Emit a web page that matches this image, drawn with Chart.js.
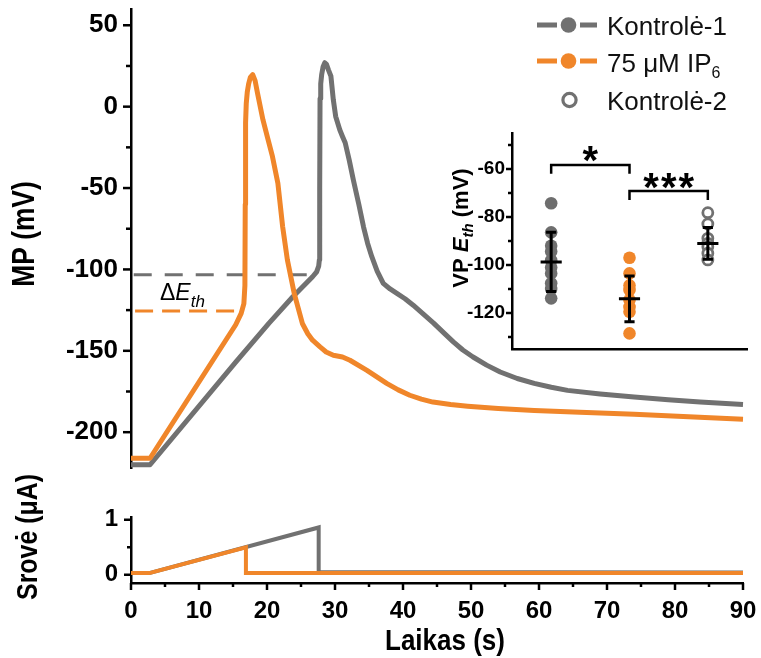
<!DOCTYPE html>
<html><head><meta charset="utf-8">
<script src="https://cdn.jsdelivr.net/npm/chart.js@4.4.1/dist/chart.umd.min.js"></script>
<style>
html,body{margin:0;padding:0;background:#fff;}
#wrap{position:relative;width:761px;height:658px;overflow:hidden;}
canvas{position:absolute;left:0;top:0;}
</style></head><body>
<div id="wrap">
<canvas id="main" width="761" height="658"></canvas>
<canvas id="cur" width="761" height="658"></canvas>
<canvas id="inset" width="761" height="658"></canvas>
</div>
<script>
// ---------- DATA ----------
const ctrl1Time = [0,2.8,15.4,20.3,23.8,26.7,27.3,27.6,27.7,27.75,27.8,27.9,28.05,28.25,28.5,28.75,29.05,29.4,29.75,30.1,30.7,31.1,31.5,32.1,32.7,33.5,34.2,34.8,35.4,36.2,37.1,38.1,39.1,40.3,41.5,43.0,44.5,46.0,47.4,48.8,50.3,52.3,54.3,56.8,59.3,61.8,64.2,69,74,79,83.7,90];
const ctrl1MP   = [-220,-220,-157,-133,-116.8,-104.5,-101.5,-98,-94,-50,5,14,20,24.5,27,26,22.5,18.7,4.3,-6,-14.2,-18.3,-22.2,-33,-45,-60,-74,-84,-92,-101,-108.6,-112,-114.7,-118,-122,-127.5,-133,-139,-144.5,-149.5,-153.8,-158.8,-163,-167,-170,-172.4,-174.3,-176.5,-178.4,-180,-181.5,-183];
const ip6Time = [0,2.8,15.4,16.2,16.6,16.75,16.8,16.85,16.95,17.1,17.3,17.55,17.9,18.25,18.6,19.4,20.1,20.8,21.6,22.3,23.0,24.0,25.2,26.0,26.7,27.8,28.7,29.75,31.1,32.2,34.7,37.6,39.3,41,42.7,44.4,47,49.5,54,59.3,66,74,82,90];
const ip6MP   = [-216,-216,-134,-127,-121,-110,-60,-10,2,9,14,18,19.7,16,8.4,-8,-19.3,-30.6,-47,-73.7,-94.2,-114.7,-133.2,-139.5,-143.5,-147.6,-150.7,-152.7,-153.8,-155.8,-162,-170,-174,-177.3,-179.7,-181.5,-183,-184,-185.4,-186.6,-187.8,-189,-190.5,-192];

const curCtrlTime = [0,2.7,27.6,27.6,90];
const curCtrl     = [0.03,0.03,0.86,0.05,0.04];
const curIp6Time  = [0,2.7,16.9,16.9,90];
const curIp6      = [0.03,0.03,0.5,0.03,0.03];

const thrLevel = [-103.3,-125.6];   // Kontrolė-1, IP6 threshold
const thrStart = [0.4,0.6];
const thrEnd   = [26.2,16.0];

const mpTicks   = [-200,-150,-100,-50,0,50];
const mpMinor   = [-175,-125,-75,-25,25];
const timeTicks = [0,10,20,30,40,50,60,70,80,90];
const timeMinor = [5,15,25,35,45,55,65,75,85];
const curTicks  = [0,1];
const curMinor  = [0.5];

const groups   = ['Kontrolė-1','75 μM IP6','Kontrolė-2'];
const groupX   = [1,2,3];
const ethCtrl1 = [-74.3,-86.4,-92,-94.4,-98,-101,-103.5,-107.6,-110,-113.9];
const ethIp6   = [-97,-103.5,-108.5,-110.4,-114.6,-117.5,-119.5,-128.5];
const ethCtrl2 = [-78.2,-82.9,-88.9,-91,-92.4,-95.1,-97.9];
const ethMean  = [-98.7,-114.1,-91.0];
const ethSD    = [12.3,9.5,6.6];
const ethTicks = [-120,-100,-80,-60];
const ethMinor = [-130,-110,-90,-70,-50];
const sigFrom = [1,2];
const sigTo   = [2,3];
const sigY    = [-58.3,-69.2];
const sigText = ['*','***'];

// ---------- STYLE ----------
const GRAY = '#717171', ORANGE = '#F0862A';
const FONT = '"Liberation Sans", Arial, Helvetica, sans-serif';
Chart.defaults.font.family = FONT;

function pts(xs, ys){ return xs.map((x,i)=>({x:x, y:ys[i]})); }
function fixAxis(size, horiz){
  return function(s){
    if(horiz) s.height = size; else s.width = size;
    s.paddingTop = 0; s.paddingBottom = 0; s.paddingLeft = 0; s.paddingRight = 0;
  };
}
function setTicks(vals){ return function(s){ s.ticks = vals.map(v=>({value:v})); }; }
function fstr(size,bold,italic){ return (italic?'italic ':'')+(bold?'bold ':'')+size+'px '+FONT; }
function drawRuns(ctx, runs, x, y, o){
  o = o || {};
  ctx.save();
  ctx.translate(x,y);
  if(o.rot) ctx.rotate(o.rot);
  ctx.scale(o.sx||1,1);
  ctx.fillStyle = o.color || '#000';
  ctx.textBaseline = 'alphabetic'; ctx.textAlign = 'left';
  let w = 0;
  runs.forEach(r=>{ ctx.font = fstr(r.size,r.bold,r.italic); r.w = ctx.measureText(r.t).width; w += r.w; });
  let cx = o.align==='center' ? -w/2 : 0;
  runs.forEach(r=>{ ctx.font = fstr(r.size,r.bold,r.italic); ctx.fillText(r.t,cx,r.dy||0); cx += r.w; });
  ctx.restore();
}
function tickPlugin(items){
  return { id:'tickMarks', afterDraw(chart){
    const ctx = chart.ctx, ca = chart.chartArea;
    items.forEach(it=>{
      const s = chart.scales[it.scale];
      ctx.save(); ctx.strokeStyle='#000'; ctx.lineWidth = it.width || 2.5; ctx.lineCap='butt';
      it.values.forEach(v=>{
        const p = s.getPixelForValue(v);
        ctx.beginPath();
        if(s.isHorizontal()){ ctx.moveTo(p, ca.bottom); ctx.lineTo(p, ca.bottom + it.len); }
        else { ctx.moveTo(ca.left, p); ctx.lineTo(ca.left - it.len, p); }
        ctx.stroke();
      });
      ctx.restore();
    });
  }};
}
const baseOpts = { responsive:false, animation:false, events:[], devicePixelRatio:1 };

// ---------- MAIN PANEL ----------
new Chart(document.getElementById('main'), {
  type:'line',
  data:{ datasets:[
    { label:groups[1], data:pts(ip6Time, ip6MP), borderColor:ORANGE, borderWidth:5, pointRadius:0,
      tension:0, borderJoinStyle:'round', order:0, clip:false },
    { label:groups[0], data:pts(ctrl1Time, ctrl1MP), borderColor:GRAY, borderWidth:5, pointRadius:0,
      tension:0, borderJoinStyle:'round', order:1, clip:false },
    { label:'Eth '+groups[0], data:[{x:thrStart[0],y:thrLevel[0]},{x:thrEnd[0],y:thrLevel[0]}],
      borderColor:GRAY, borderWidth:3, borderDash:[18,13], pointRadius:0, order:2 },
    { label:'Eth '+groups[1], data:[{x:thrStart[1],y:thrLevel[1]},{x:thrEnd[1],y:thrLevel[1]}],
      borderColor:ORANGE, borderWidth:3, borderDash:[18,9], pointRadius:0, order:3 }
  ]},
  options: Object.assign({}, baseOpts, {
    layout:{ padding:{ left:0, top:9, right:18, bottom:190 } },
    plugins:{ legend:{display:false}, tooltip:{enabled:false} },
    scales:{
      x:{ type:'linear', min:0, max:90, display:false },
      y:{ type:'linear', min:-222, max:60, afterBuildTicks:setTicks(mpTicks), afterFit:fixAxis(131,false),
          grid:{display:false, drawTicks:false}, border:{display:true, color:'#000', width:2.5},
          ticks:{ padding:13, color:'#000', font:{size:26, weight:'bold'} } }
    }
  }),
  plugins:[
    tickPlugin([{scale:'y', values:mpTicks, len:8},{scale:'y', values:mpMinor, len:5}]),
    { id:'mainText', afterDraw(chart){
      const ctx = chart.ctx;
      drawRuns(ctx, [{t:'MP (mV)', size:31, bold:true}], 34, 234, {rot:-Math.PI/2, align:'center', sx:0.85});
      drawRuns(ctx, [{t:'\u0394', size:23},{t:'E', size:23, italic:true},{t:'th', size:17, italic:true, dy:7}], 160, 300);
      const rows = [{y:25, base:35, col:GRAY, type:'line'},{y:61, base:72, col:ORANGE, type:'line'},{y:100, base:110, col:GRAY, type:'open'}];
      rows.forEach((r,i)=>{
        ctx.save();
        if(r.type==='line'){
          ctx.strokeStyle = r.col; ctx.lineWidth = 5; ctx.lineCap='butt';
          ctx.beginPath(); ctx.moveTo(537,r.y); ctx.lineTo(557,r.y); ctx.moveTo(580,r.y); ctx.lineTo(597,r.y); ctx.stroke();
          ctx.fillStyle = r.col; ctx.beginPath(); ctx.arc(568.5,r.y,7.8,0,Math.PI*2); ctx.fill();
        } else {
          ctx.strokeStyle = r.col; ctx.lineWidth = 3.2; ctx.fillStyle='#fff';
          ctx.beginPath(); ctx.arc(569.5,r.y,6.6,0,Math.PI*2); ctx.fill(); ctx.stroke();
        }
        ctx.restore();
        const name = groups[i];
        let runs;
        const m = name.match(/^(.*IP)(\d)$/);
        if(m) runs = [{t:m[1], size:26},{t:m[2], size:16, dy:6}];
        else runs = [{t:name, size:26}];
        drawRuns(ctx, runs, 607, r.base, {color:'#111'});
      });
    }}
  ]
});

// ---------- CURRENT PANEL ----------
new Chart(document.getElementById('cur'), {
  type:'line',
  data:{ datasets:[
    { label:groups[1], data:pts(curIp6Time, curIp6), borderColor:ORANGE, borderWidth:4, pointRadius:0, tension:0, order:0, clip:false },
    { label:groups[0], data:pts(curCtrlTime, curCtrl), borderColor:GRAY, borderWidth:4, pointRadius:0, tension:0, order:1, clip:false }
  ]},
  options: Object.assign({}, baseOpts, {
    layout:{ padding:{ left:0, top:517, right:18, bottom:0 } },
    plugins:{ legend:{display:false}, tooltip:{enabled:false} },
    scales:{
      x:{ type:'linear', min:0, max:90, afterBuildTicks:setTicks(timeTicks), afterFit:fixAxis(75,true),
          grid:{display:false, drawTicks:false}, border:{display:true, color:'#000', width:2.5},
          ticks:{ padding:14, color:'#000', maxRotation:0, autoSkip:false, font:{size:24, weight:'bold'} } },
      y:{ type:'linear', min:-0.15, max:1.05, afterBuildTicks:setTicks(curTicks), afterFit:fixAxis(131,false),
          grid:{display:false, drawTicks:false}, border:{display:true, color:'#000', width:2.5},
          ticks:{ padding:13, color:'#000', font:{size:24, weight:'bold'} } }
    }
  }),
  plugins:[
    tickPlugin([{scale:'x', values:timeTicks, len:7},{scale:'x', values:timeMinor, len:4},
                {scale:'y', values:curTicks, len:7},{scale:'y', values:curMinor, len:4}]),
    { id:'curText', afterDraw(chart){
      const ctx = chart.ctx;
      drawRuns(ctx, [{t:'Srov\u0117 (\u03bcA)', size:30, bold:true}], 37, 537, {rot:-Math.PI/2, align:'center', sx:0.83});
      drawRuns(ctx, [{t:'Laikas (s)', size:30, bold:true}], 445, 650, {align:'center', sx:0.867});
    }}
  ]
});

// ---------- INSET ----------
const CAP = 0.065, MEANW = 0.135, LEG = 3.7;
const ebData = [];
ethMean.forEach((m,i)=>{
  const x = groupX[i], s = ethSD[i];
  ebData.push({x:x,y:m-s},{x:x,y:m+s},{x:x,y:null},
              {x:x-CAP,y:m+s},{x:x+CAP,y:m+s},{x:x,y:null},
              {x:x-CAP,y:m-s},{x:x+CAP,y:m-s},{x:x,y:null},
              {x:x-MEANW,y:m},{x:x+MEANW,y:m},{x:x,y:null});
});
const brData = [];
sigFrom.forEach((a,i)=>{
  const b = sigTo[i], y = sigY[i];
  brData.push({x:a,y:y-LEG},{x:a,y:y},{x:b,y:y},{x:b,y:y-LEG},{x:b,y:null});
});
new Chart(document.getElementById('inset'), {
  type:'scatter',
  data:{ datasets:[
    { label:'SD', data:ebData, showLine:true, borderColor:'#000', borderWidth:3, pointRadius:0, spanGaps:false, order:0, clip:false },
    { label:'sig', data:brData, showLine:true, borderColor:'#000', borderWidth:2.5, pointRadius:0, spanGaps:false, order:0, clip:false },
    { label:groups[0], data:ethCtrl1.map(v=>({x:groupX[0],y:v})), pointRadius:6.3, backgroundColor:'#6e6e6e', borderWidth:0, order:1 },
    { label:groups[1], data:ethIp6.map(v=>({x:groupX[1],y:v})), pointRadius:6.3, backgroundColor:ORANGE, borderWidth:0, order:2 },
    { label:groups[2], data:ethCtrl2.map(v=>({x:groupX[2],y:v})), pointRadius:5, backgroundColor:'#fff', borderColor:GRAY, borderWidth:2.8, order:3 }
  ]},
  options: Object.assign({}, baseOpts, {
    layout:{ padding:{ left:420, top:133, right:14, bottom:309 } },
    plugins:{ legend:{display:false}, tooltip:{enabled:false} },
    scales:{
      x:{ type:'linear', min:0.5, max:3.5, afterFit:fixAxis(0,true),
          grid:{display:false, drawTicks:false}, border:{display:true, color:'#000', width:2.5},
          ticks:{display:false} },
      y:{ type:'linear', min:-135, max:-45, afterBuildTicks:setTicks(ethTicks), afterFit:fixAxis(92,false),
          grid:{display:false, drawTicks:false}, border:{display:true, color:'#000', width:2.5},
          ticks:{ padding:7, color:'#000', font:{size:19, weight:'bold'} } }
    }
  }),
  plugins:[
    tickPlugin([{scale:'y', values:ethTicks, len:6},{scale:'y', values:ethMinor, len:4}]),
    { id:'insetText', afterDraw(chart){
      const ctx = chart.ctx, xs = chart.scales.x, ys = chart.scales.y;
      drawRuns(ctx, [{t:'VP ', size:22, bold:true},{t:'E', size:22, bold:true, italic:true},
                     {t:'th', size:15, bold:true, italic:true, dy:5},{t:' (mV)', size:22, bold:true}],
               468, 228, {rot:-Math.PI/2, align:'center'});
      sigText.forEach((txt,i)=>{
        const mid = xs.getPixelForValue((sigFrom[i]+sigTo[i])/2);
        const cy = ys.getPixelForValue(sigY[i]) - 10.5;
        ctx.save(); ctx.fillStyle='#000'; ctx.font = fstr(40,true,false); ctx.textAlign='center'; ctx.textBaseline='alphabetic';
        const mm = ctx.measureText('*');
        const base = cy + (mm.actualBoundingBoxAscent - mm.actualBoundingBoxDescent)/2;
        const n = txt.length;
        for(let k=0;k<n;k++){ ctx.fillText('*', mid + (k-(n-1)/2)*17.7, base); }
        ctx.restore();
      });
    }}
  ]
});
</script>
</body></html>
